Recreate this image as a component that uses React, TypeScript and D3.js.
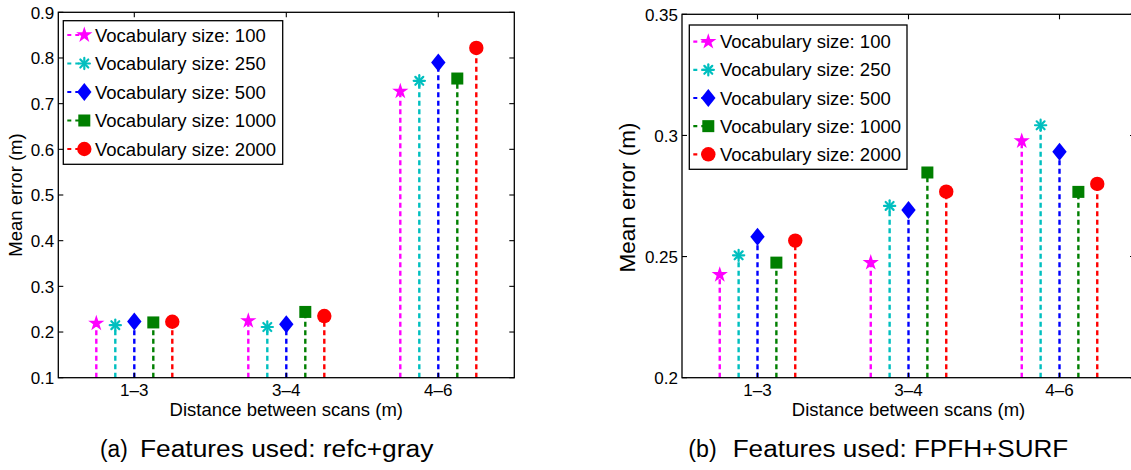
import React from "react";
import * as d3 from "d3";

// ---------- data ----------
const categories = ["1–3", "3–4", "4–6"];
const seriesNames = [
  "Vocabulary size: 100",
  "Vocabulary size: 250",
  "Vocabulary size: 500",
  "Vocabulary size: 1000",
  "Vocabulary size: 2000",
];
const seriesColors = ["#FF00FF", "#00BFBF", "#0000FF", "#007F00", "#FF0000"];
const seriesMarkers = ["star", "asterisk", "diamond", "square", "circle"];
const seriesOffsets = [-0.25, -0.125, 0, 0.125, 0.25];

// (a) refc+gray
const a100 = [0.219, 0.2245, 0.727];
const a250 = [0.215, 0.211, 0.75];
const a500 = [0.223, 0.217, 0.79];
const a1000 = [0.221, 0.244, 0.755];
const a2000 = [0.2225, 0.235, 0.822];
const aTicks = [0.1, 0.2, 0.3, 0.4, 0.5, 0.6, 0.7, 0.8, 0.9];

// (b) FPFH+SURF
const b100 = [0.2425, 0.2475, 0.2977];
const b250 = [0.2505, 0.2709, 0.3042];
const b500 = [0.2582, 0.2692, 0.2933];
const b1000 = [0.2475, 0.2847, 0.2767];
const b2000 = [0.2566, 0.2768, 0.28];
const bTicks = [0.2, 0.25, 0.3, 0.35];

const FONT = '"Liberation Sans", Arial, Helvetica, sans-serif';

function Marker({ kind, x, y, color }: { kind: string; x: number; y: number; color: string }) {
  if (kind === "star") {
    const p = d3.symbol(d3.symbolStar, 82)();
    return <path d={p as string} transform={`translate(${x},${y})`} fill={color} />;
  }
  if (kind === "asterisk") {
    const r = 5.6;
    const d = r * Math.SQRT1_2;
    return (
      <g stroke={color} strokeWidth={2.2} strokeLinecap="round">
        <line x1={x - r} y1={y} x2={x + r} y2={y} />
        <line x1={x} y1={y - r} x2={x} y2={y + r} />
        <line x1={x - d} y1={y - d} x2={x + d} y2={y + d} />
        <line x1={x - d} y1={y + d} x2={x + d} y2={y - d} />
      </g>
    );
  }
  if (kind === "diamond") {
    return <path d={`M${x},${y - 9}L${x + 7.2},${y}L${x},${y + 9}L${x - 7.2},${y}Z`} fill={color} />;
  }
  if (kind === "square") {
    return <rect x={x - 6} y={y - 6} width={12} height={12} fill={color} />;
  }
  return <circle cx={x} cy={y} r={7.2} fill={color} />;
}

type PanelProps = {
  xRange: [number, number];
  yDomain: [number, number];
  yRange: [number, number];
  yTicks: number[];
  series: number[][];
  legend: { x0: number; y0: number; w: number; h: number; row0: number; step: number; mdx: number; tdx: number };
  ylabel: { x: number; y: number; size: number };
};

function Panel({ xRange, yDomain, yRange, yTicks, series, legend, ylabel }: PanelProps) {
  const x = d3.scaleLinear().domain([0.5, categories.length + 0.5]).range(xRange);
  const y = d3.scaleLinear().domain(yDomain).range(yRange);
  const fmt = d3.format("");
  const [xl, xr] = xRange;
  const [yb, yt] = yRange;
  const tick = 5;
  return (
    <g fontFamily={FONT}>
      {/* stems */}
      {series.map((vals, si) =>
        vals.map((v, ci) => {
          const cx = x(ci + 1 + seriesOffsets[si]);
          return (
            <line
              key={`s${si}-${ci}`}
              x1={cx}
              x2={cx}
              y1={y(yDomain[0])}
              y2={y(v)}
              stroke={seriesColors[si]}
              strokeWidth={2.4}
              strokeDasharray="5,3.5"
            />
          );
        })
      )}
      {/* markers */}
      {series.map((vals, si) =>
        vals.map((v, ci) => (
          <Marker key={`m${si}-${ci}`} kind={seriesMarkers[si]} x={x(ci + 1 + seriesOffsets[si])} y={y(v)} color={seriesColors[si]} />
        ))
      )}
      {/* axes box */}
      <rect x={xl} y={yt} width={xr - xl} height={yb - yt} fill="none" stroke="#000" strokeWidth={1.3} />
      {yTicks.map((t) => (
        <g key={`yt${t}`}>
          <line x1={xl} x2={xl + tick} y1={y(t)} y2={y(t)} stroke="#000" strokeWidth={1.1} />
          <line x1={xr} x2={xr - tick} y1={y(t)} y2={y(t)} stroke="#000" strokeWidth={1.1} />
          <text x={xl - 4} y={y(t)} dy="0.37em" textAnchor="end" fontSize={17} fill="#000">
            {fmt(t)}
          </text>
        </g>
      ))}
      {categories.map((c, i) => (
        <g key={`xt${c}`}>
          <line x1={x(i + 1)} x2={x(i + 1)} y1={yb} y2={yb - tick} stroke="#000" strokeWidth={1.1} />
          <line x1={x(i + 1)} x2={x(i + 1)} y1={yt} y2={yt + tick} stroke="#000" strokeWidth={1.1} />
          <text x={x(i + 1)} y={yb + 18} textAnchor="middle" fontSize={17} fill="#000">
            {c}
          </text>
        </g>
      ))}
      <text x={x(2)} y={416} textAnchor="middle" fontSize={18.5} fill="#000">
        Distance between scans (m)
      </text>
      <text transform={`translate(${ylabel.x},${ylabel.y}) rotate(-90)`} textAnchor="middle" fontSize={ylabel.size} fill="#000">
        Mean error (m)
      </text>
      {/* legend */}
      <rect x={legend.x0} y={legend.y0} width={legend.w} height={legend.h} fill="#fff" stroke="#000" strokeWidth={1.3} />
      {seriesNames.map((name, si) => {
        const ry = legend.row0 + si * legend.step;
        const mx = legend.x0 + legend.mdx;
        return (
          <g key={`lg${si}`}>
            <line x1={legend.x0 + 4} x2={mx} y1={ry} y2={ry} stroke={seriesColors[si]} strokeWidth={2.2} strokeDasharray="4,4" />
            <Marker kind={seriesMarkers[si]} x={mx} y={ry} color={seriesColors[si]} />
            <text x={legend.x0 + legend.tdx} y={ry + 6.5} fontSize={18.5} fill="#000">
              {name}
            </text>
          </g>
        );
      })}
    </g>
  );
}

export default function App() {
  const seriesA = [a100, a250, a500, a1000, a2000];
  const seriesB = [b100, b250, b500, b1000, b2000];
  return (
    <svg
      width={1131}
      height={470}
      viewBox="0 0 1131 470"
      style={{ position: "absolute", left: 0, top: 0, background: "#fff" }}
    >
      <rect x={0} y={0} width={1131} height={470} fill="#fff" />
      <Panel
        xRange={[58.3, 514.3]}
        yDomain={[0.1, 0.9]}
        yRange={[377.7, 12.3]}
        yTicks={aTicks}
        series={seriesA}
        legend={{ x0: 63.3, y0: 20.7, w: 219.4, h: 143.6, row0: 35, step: 28.5, mdx: 21, tdx: 31.7 }}
        ylabel={{ x: 22.3, y: 195, size: 18.5 }}
      />
      <Panel
        xRange={[682, 1135]}
        yDomain={[0.2, 0.35]}
        yRange={[377.7, 14.3]}
        yTicks={bTicks}
        series={seriesB}
        legend={{ x0: 689.3, y0: 25, w: 217.7, h: 144.3, row0: 41.7, step: 28.15, mdx: 19, tdx: 30.7 }}
        ylabel={{ x: 634.5, y: 197.5, size: 22.5 }}
      />
      <g fontFamily={FONT} fontSize={23} fill="#000">
        <text x={100} y={457} textLength={27.7} lengthAdjust="spacingAndGlyphs">(a)</text>
        <text x={140} y={457} textLength={293.3} lengthAdjust="spacingAndGlyphs">Features used: refc+gray</text>
        <text x={688.3} y={457} textLength={28.4} lengthAdjust="spacingAndGlyphs">(b)</text>
        <text x={732.7} y={457} textLength={335.6} lengthAdjust="spacingAndGlyphs">Features used: FPFH+SURF</text>
      </g>
    </svg>
  );
}
